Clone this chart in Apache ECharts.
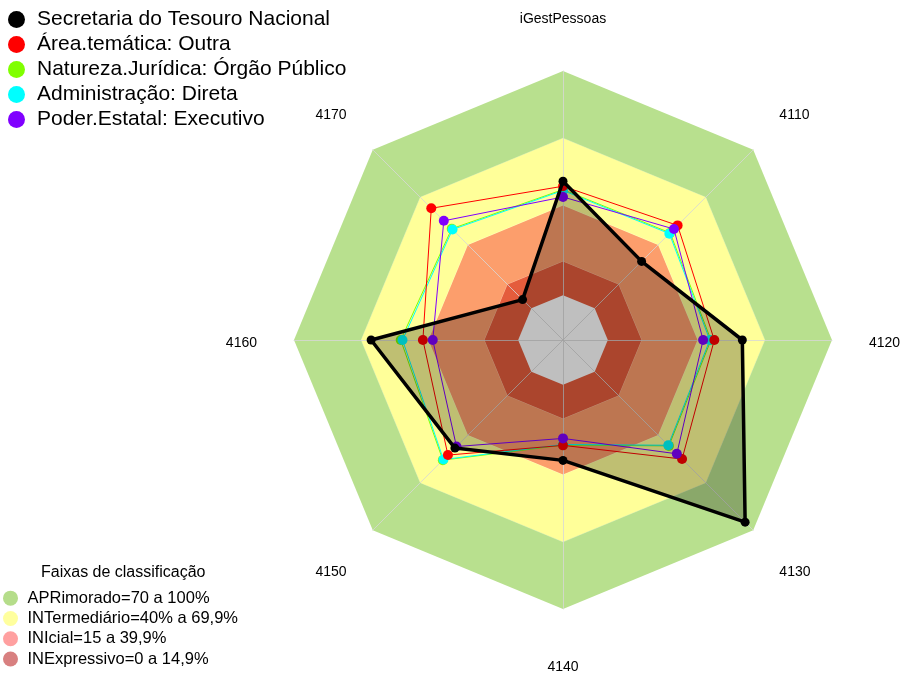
<!DOCTYPE html>
<html>
<head>
<meta charset="utf-8">
<script src="https://cdn.jsdelivr.net/npm/echarts@6/dist/echarts.min.js"></script>
<style>
  html, body { margin: 0; padding: 0; background: #fff; }
  #chart { width: 905px; height: 675px; }
</style>
</head>
<body>
<div id="chart"></div>
<script>
// eixos no sentido horário, começando no topo
const axes = ['iGestPessoas', '4110', '4120', '4130', '4140', '4150', '4160', '4170']

const secretaria = [50.8, 29.6, 60, 94.9, 33.7, 48.2, 65.6, 5.5]
const areaTematica = [48.6, 52.3, 47.5, 55.1, 27, 52.6, 42.5, 63.1]
const natureza = [47.1, 47.6, 46, 46.8, 26.9, 55.8, 52.4, 50.2]
const administracao = [46.7, 47.1, 45.5, 46.4, 26.6, 55.4, 51.6, 49.7]
const poder = [43.8, 50, 42.5, 51.8, 23.9, 47.2, 38.1, 55.2]

// faixas de classificação (limite superior de cada faixa)
const faixas = ['APRimorado=70 a 100%', 'INTermediário=40% a 69,9%', 'INIcial=15 a 39,9%', 'INExpressivo=0 a 14,9%']
const faixaLimites = [100, 70, 40, 15]

const scaleMin = -20
const scaleMax = 100

// o radar do echarts gira no sentido anti-horário
const ccw = arr => [arr[0]].concat(arr.slice(1).reverse())

const chart = echarts.init(document.getElementById('chart'))

const faixaCores = ['#b8e08e', '#ffff99', '#fc9e6c', '#e45c3c']
const legendaCores = ['#b5dd8a', '#ffff9e', '#ffa0a0', '#d88080']

const bandSeries = faixas.map((nome, i) => ({
  name: nome,
  type: 'radar',
  z: 1,
  symbol: 'none',
  silent: true,
  itemStyle: { color: faixaCores[i] },
  lineStyle: { width: 1, color: 'rgba(255,255,255,0.35)' },
  areaStyle: { color: faixaCores[i], opacity: 1 },
  data: [{ value: axes.map(() => faixaLimites[i]) }]
}))

// miolo branco (abaixo de zero)
bandSeries.push({
  name: 'miolo',
  type: 'radar',
  z: 1,
  symbol: 'none',
  silent: true,
  lineStyle: { width: 0 },
  areaStyle: { color: '#ffffff', opacity: 1 },
  data: [{ value: axes.map(() => 0) }]
})

const lineSerie = (nome, valores, cor, largura, tam) => ({
  name: nome,
  type: 'radar',
  z: 4,
  symbol: 'circle',
  symbolSize: tam,
  itemStyle: { color: cor },
  lineStyle: { color: cor, width: largura },
  data: [{ value: ccw(valores) }]
})

// rótulos diagonais ficam um pouco mais afastados na vertical
const nomeEixo = nome => {
  if (nome === '4110' || nome === '4170') return nome + '\n{sp| }'
  if (nome === '4130' || nome === '4150') return '{sp2| }\n' + nome
  return nome
}

const option = {
  animation: false,
  title: {
    text: 'Faixas de classificação',
    left: 41,
    top: 565,
    padding: 0,
    textStyle: { fontSize: 16, fontWeight: 'normal', color: '#000', fontFamily: 'Liberation Sans' }
  },
  legend: [
    {
      orient: 'vertical',
      left: 8,
      top: 7,
      padding: 0,
      itemWidth: 17,
      itemHeight: 17,
      itemGap: 0,
      icon: 'circle',
      textStyle: { fontSize: 21, lineHeight: 25, color: '#000', fontFamily: 'Liberation Sans', padding: [0, 0, 0, 7] },
      data: ['Secretaria do Tesouro Nacional', 'Área.temática: Outra', 'Natureza.Jurídica: Órgão Público', 'Administração: Direta', 'Poder.Estatal: Executivo']
    },
    {
      orient: 'vertical',
      left: 3,
      top: 588,
      padding: 0,
      itemWidth: 20,
      itemHeight: 15,
      itemGap: 0,
      icon: 'circle',
      textStyle: { fontSize: 16.5, lineHeight: 20.3, color: '#000', fontFamily: 'Liberation Sans', padding: [0, 0, 0, 2] },
      data: faixas.map((nome, i) => ({ name: nome, itemStyle: { color: legendaCores[i] } }))
    }
  ],
  radar: {
    center: [563, 340],
    radius: 269,
    shape: 'polygon',
    z: 3,
    nameGap: 37,
    axisName: {
      color: '#000',
      fontSize: 14,
      fontFamily: 'Liberation Sans',
      padding: [14, 0, 8, 0],
      formatter: nomeEixo,
      rich: {
        sp: { fontSize: 2, lineHeight: 23 },
        sp2: { fontSize: 2, lineHeight: 26 }
      }
    },
    indicator: ccw(axes).map(n => ({ name: n, min: scaleMin, max: scaleMax })),
    splitNumber: 6,
    splitLine: { show: false },
    splitArea: { show: false },
    axisLine: { lineStyle: { color: 'rgba(215,215,215,0.8)', width: 1 } },
    axisTick: { show: false },
    axisLabel: { show: false }
  },
  series: bandSeries.concat([
    lineSerie('Natureza.Jurídica: Órgão Público', natureza, '#80ff00', 1, 10),
    lineSerie('Administração: Direta', administracao, '#00ffff', 1, 10),
    lineSerie('Área.temática: Outra', areaTematica, '#ff0000', 1, 10),
    lineSerie('Poder.Estatal: Executivo', poder, '#8000ff', 1, 10),
    Object.assign(lineSerie('Secretaria do Tesouro Nacional', secretaria, '#000000', 3.5, 9), {
      z: 5,
      areaStyle: { color: 'rgba(0,0,0,0.25)', opacity: 1 }
    })
  ])
}

chart.setOption(option)
</script>
</body>
</html>
